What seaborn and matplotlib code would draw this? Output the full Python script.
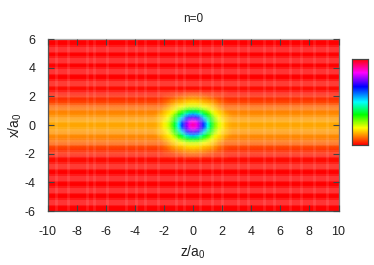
import numpy as np
import pandas as pd
import matplotlib
matplotlib.use('Agg')
import matplotlib.pyplot as plt
from matplotlib.colors import LinearSegmentedColormap
import seaborn as sns

# grid nodes of the map
z_nodes = np.arange(-10, 10.25, 0.25)
x_nodes = np.arange(6, -6.25, -0.25)

# level (percent of colour range) against x, from x=0 up to x=6, far from the centre
band_by_x = [13, 13, 12, 11, 10, 8, 6, 4, 3, 1, 1, 1, 1, 0, 0, 0, 0, 0, 0, 0, 0, 0, 0, 0, 0]

# levels round the centre, one quadrant: rows x=0..2.5, columns z=0..2.5
centre_rows = [
    [90, 86, 76, 64, 50, 38, 28, 22, 19, 16, 14],
    [85, 82, 73, 61, 48, 37, 27, 22, 19, 16, 14],
    [73, 71, 63, 52, 42, 33, 25, 20, 17, 15, 13],
    [55, 53, 47, 40, 33, 26, 21, 18, 16, 14, 12],
    [38, 37, 33, 29, 25, 21, 18, 16, 14, 11, 10],
    [23, 23, 22, 20, 19, 17, 15, 12, 10, 8, 8],
    [18, 18, 17, 16, 15, 14, 12, 10, 8, 7, 6],
    [14, 13, 13, 12, 11, 10, 9, 7, 6, 5, 4],
    [9, 9, 8, 8, 7, 6, 5, 5, 4, 3, 3],
    [4, 4, 4, 3, 3, 3, 3, 2, 2, 2, 1],
    [1, 1, 1, 1, 1, 1, 1, 1, 1, 1, 1],
]

# the light moire bands of the picture
light_x = [5.32, 4.54, 3.77, 2.95, 2.16, 1.28, 0.44, -0.44, -1.16, -2.04, -2.84, -3.68, -4.53, -5.34]
light_z = [-9.4, -8.6, -7.3, -6.8, -5.9, -4.6, -3.9, -3.3, -2.4, -1.2, -0.6, 0.5, 1.3, 2.0, 3.1, 3.8, 4.9,
           5.6, 6.7, 7.4, 8.3, 9.2]

z_ticks = [-10, -8, -6, -4, -2, 0, 2, 4, 6, 8, 10]
x_ticks = [6, 4, 2, 0, -2, -4, -6]
bar_ticks = [0.125, 0.25, 0.375, 0.5, 0.625, 0.75, 0.875]

# fill in the table
band = np.array(band_by_x, dtype=float)
full_band = np.concatenate([band[:0:-1], band])
levels = np.tile(full_band[:, None], (1, len(z_nodes)))
quad = np.array(centre_rows, dtype=float)
patch = np.vstack([quad[:0:-1], quad])
patch = np.hstack([patch[:, :0:-1], patch])
r0 = len(x_nodes) // 2 - 10
c0 = len(z_nodes) // 2 - 10
levels[r0:r0 + 21, c0:c0 + 21] = patch
df = pd.DataFrame(levels / 100, index=x_nodes, columns=z_nodes)

rainbow = LinearSegmentedColormap.from_list('pm3d', [
    (0.0, '#ff0000'), (0.2, '#ffff00'), (0.35, '#00ff00'), (0.5, '#00ffff'),
    (0.68, '#0000ff'), (0.84, '#ff00ff'), (1.0, '#ff0000')])

sns.set_theme(style='ticks')
plt.rcParams['font.family'] = ['Liberation Sans']
plt.rcParams['mathtext.default'] = 'regular'

W, H = 374, 265
fig = plt.figure(figsize=(W / 100, H / 100), dpi=100)
ax = fig.add_axes([47.5 / W, 1 - 211 / H, 291 / W, 172 / H])
cax = fig.add_axes([351.5 / W, 1 - 145 / H, 16.5 / W, 86 / H])

sns.heatmap(df, ax=ax, cbar_ax=cax, cmap=rainbow, vmin=0, vmax=1, shading='gouraud',
            xticklabels=False, yticklabels=False, cbar_kws={'ticks': bar_ticks})


def z_pos(v):
    return (np.asarray(v, dtype=float) + 10) / 0.25


def x_pos(v):
    return (6 - np.asarray(v, dtype=float)) / 0.25


ax.set_xlim(0, len(z_nodes) - 1)
ax.set_ylim(len(x_nodes) - 1, 0)
ax.set_axisbelow(False)

for v in light_x:
    ax.axhline(x_pos(v), color='white', alpha=0.1, lw=6, zorder=1.5)
    ax.axhline(x_pos(v), color='white', alpha=0.12, lw=3.5, zorder=1.5)
for v in light_z:
    ax.axvline(z_pos(v), color='white', alpha=0.1, lw=2, zorder=1.5)

ax.set_xticks(z_pos(z_ticks))
ax.set_xticklabels(z_ticks)
ax.set_yticks(x_pos(x_ticks))
ax.set_yticklabels(x_ticks, rotation=0)
ax.tick_params(axis='x', direction='in', top=True, bottom=True, length=4, width=0.8, color='#444444',
               labelsize=9, pad=11, labelcolor='#222222')
ax.tick_params(axis='y', direction='in', left=True, right=True, length=4, width=0.8, color='#444444',
               labelsize=9, pad=8.5, labelcolor='#222222')
for name, sp in ax.spines.items():
    sp.set_visible(True)
    sp.set_linewidth(0.9)
    sp.set_color('#555555')
ax.spines['top'].set_color('#aaaaaa')
ax.spines['right'].set_color('#777777')

ax.set_xlabel('z/a$_0$', fontsize=10, labelpad=4, color='#222222')
ax.set_ylabel('x/a$_0$', fontsize=10, labelpad=0.5, color='#222222')
ax.set_title('n=0', fontsize=8.5, pad=12, color='#222222')

cax.tick_params(direction='in', left=True, right=True, length=3, width=0.8, color='#333333',
                labelleft=False, labelright=False)
for sp in cax.spines.values():
    sp.set_visible(True)
    sp.set_linewidth(0.8)
    sp.set_color('#444444')

fig.savefig('out.png', dpi=100)
